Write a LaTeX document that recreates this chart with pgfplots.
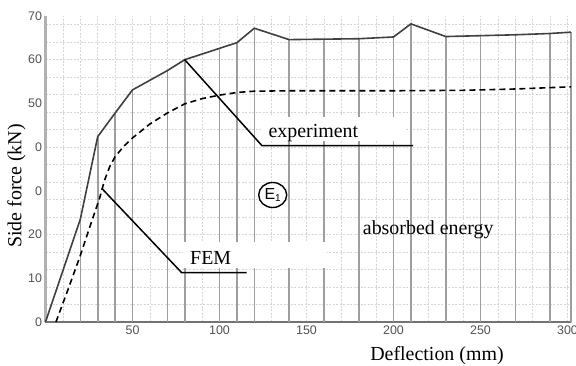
\documentclass[border=0pt]{standalone}
\usepackage{fontspec}
\setmainfont{Liberation Serif}
\newfontfamily\ticksans{Liberation Sans}
\usepackage{pgfplots}
\pgfplotsset{compat=1.18}
\usetikzlibrary{shapes.geometric}
\definecolor{tickgray}{gray}{0.32}
\begin{document}
\begin{tikzpicture}
\begin{axis}[
  at={(45.5bp,44bp)}, anchor=south west,
  scale only axis, width=525.5bp, height=306bp,
  xmin=0, xmax=302, ymin=0, ymax=70,
  axis x line=bottom, axis y line=left,
  x axis line style={-, black!55, line width=1.2bp},
  y axis line style={-, black!30, line width=2bp},
  xtick={50,100,...,300}, ytick={0,10,...,70},
  yticklabels={0,10,20,0,0,50,60,70},
  minor xtick={10,20,...,300}, minor ytick={0,4,...,68},
  xminorgrids, yminorgrids,
  minor grid style={black!16, line width=0.7bp, dash pattern=on 2bp off 1.5bp},
  major tick length=0, minor tick length=0,
  ticklabel style={font=\ticksans\fontsize{12.5}{14}\selectfont, text=tickgray},
  /pgf/number format/assume math mode=true,
  clip=false,
]
% drop lines (absorbed energy strips)
\addplot[ycomb, black!38, line width=1.6bp] coordinates {
(20,23.5)(30,42.4)(40,47.8)(50,53.1)(70,57.5)(80,60)(100,62.6)(110,63.9)(120,67.2)
(140,64.6)(160,64.7)(180,64.8)(200,65.2)(210,68.2)(230,65.3)(250,65.5)(270,65.7)(290,66.0)(302,66.3)};
% experiment
\addplot[black!75, line width=1.6bp] coordinates {
(0,0)(20,23.5)(30,42.4)(40,47.8)(50,53.1)(70,57.5)(80,60)(100,62.6)(110,63.9)(120,67.2)
(140,64.6)(160,64.7)(180,64.8)(200,65.2)(210,68.2)(230,65.3)(250,65.5)(270,65.7)(290,66.0)(302,66.3)};
% FEM
\addplot[black, line width=1.6bp, dash pattern=on 6bp off 4bp] coordinates {
(6,0)(13,7.5)(20,15.2)(26,22.4)(31,28.2)(34,32.5)(37,35.6)(40,37.8)(45,40.2)(50,42.1)
(60,45.3)(70,47.8)(80,49.9)(90,51.1)(100,51.9)(110,52.5)(120,52.8)(140,52.9)(200,52.9)
(240,53.0)(270,53.3)(302,53.8)};
\end{axis}
% white label boxes
\fill[white] (263bp,225bp) rectangle (406bp,249bp);
\fill[white] (183bp,98bp) rectangle (327bp,124bp);
% leaders
\draw[black, line width=1.5bp] (184.7bp,306.3bp) -- (262bp,220.3bp) -- (413bp,220.3bp);
\draw[black, line width=1.5bp] (101.7bp,177.7bp) -- (181.7bp,93.3bp) -- (246.7bp,93.3bp);
% labels
\node[anchor=base west, inner sep=0, font=\fontsize{20}{24}\selectfont] at (268.3bp,228bp) {experiment};
\node[anchor=base west, inner sep=0, font=\fontsize{20}{24}\selectfont] at (190bp,101bp) {FEM};
\node[anchor=base west, inner sep=0, font=\fontsize{20}{24}\selectfont] at (362.7bp,131bp) {absorbed energy};
\node[ellipse, draw, line width=1.4bp, fill=white, minimum width=28bp, minimum height=25bp, inner sep=0,
      font=\ticksans\fontsize{16}{16}\selectfont] at (272.7bp,171bp)
      {E{\fontsize{10}{10}\selectfont\raisebox{-1.5bp}{1}}};
\node[anchor=base, inner sep=0, font=\fontsize{20}{24}\selectfont] at (437bp,6bp) {Deflection (mm)};
\node[rotate=90, anchor=center, inner sep=0, font=\fontsize{20}{24}\selectfont] at (16.5bp,180bp) {Side force (kN)};
\pgfresetboundingbox
\path[use as bounding box] (0,0) rectangle (576bp,366bp);
\end{tikzpicture}
\end{document}
